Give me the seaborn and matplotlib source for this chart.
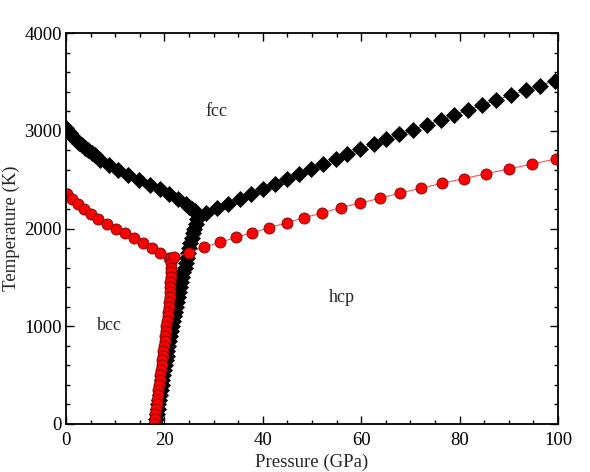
import numpy as np
import pandas as pd
import seaborn as sns
import matplotlib.pyplot as plt
from matplotlib.ticker import MultipleLocator

# fcc boundary (black diamonds), low-pressure branch: fcc / bcc
fcc_bcc_p = [0.0, 0.35, 0.75, 1.2, 1.65, 2.15, 2.7, 3.25, 3.85, 4.5, 5.2, 5.9,
             7.0, 8.7, 10.6, 12.7, 14.9, 17.1, 19.1, 21.0, 22.8, 24.3,
             25.0, 25.6, 26.2, 26.6, 27.0]
fcc_bcc_t = [3025, 3000, 2975, 2950, 2925, 2900, 2875, 2850, 2825, 2800, 2775, 2750,
             2700, 2650, 2600, 2550, 2500, 2450, 2400, 2350, 2300, 2250,
             2225, 2200, 2175, 2150, 2125]

# steep black branch (bcc / hcp side)
steep_t = [0, 50, 100, 150, 200, 250, 300, 350, 400, 450, 500, 550, 600, 650, 700,
           750, 800, 850, 900, 950, 1000, 1050, 1100, 1150, 1200, 1250, 1300, 1350,
           1400, 1450, 1500, 1550, 1600, 1650, 1700, 1750, 1800, 1850, 1900, 1950,
           2000, 2050, 2100]
steep_p = [18.2, 18.35, 18.5, 18.65, 18.8, 18.95, 19.1, 19.25, 19.45, 19.6, 19.75,
           19.9, 20.1, 20.25, 20.45, 20.6, 20.8, 21.0, 21.2, 21.4, 21.6, 21.8, 22.0,
           22.2, 22.4, 22.6, 22.8, 23.0, 23.2, 23.4, 23.65, 23.85, 24.1, 24.3, 24.55,
           24.8, 25.05, 25.3, 25.6, 25.85, 26.1, 26.4, 26.7]

# fcc / hcp branch (black)
fcc_hcp_p = [28.4, 30.7, 33.0, 35.3, 37.7, 40.1, 42.5, 44.9, 47.4, 49.7, 52.2, 54.8,
             57.2, 59.8, 62.5, 65.0, 67.7, 70.5, 73.3, 76.2, 78.9, 81.7, 84.5, 87.4,
             90.4, 93.4, 96.3, 99.3]
fcc_hcp_t = [2160, 2205, 2255, 2305, 2355, 2404, 2458, 2506, 2558, 2609, 2660, 2708,
             2759, 2810, 2861, 2912, 2962, 3010, 3060, 3110, 3161, 3212, 3263, 3314,
             3364, 3412, 3462, 3512]

# red circles: left branch
red_left_p = [0.2, 1.2, 2.4, 3.7, 5.1, 6.6, 8.3, 10.1, 11.9, 13.8, 15.7, 17.5, 19.2, 20.9]
red_left_t = [2355, 2300, 2250, 2200, 2150, 2100, 2050, 2000, 1950, 1900, 1850, 1800,
              1750, 1700]

# red vertical branch
red_vert_t = [1700, 1650, 1600, 1550, 1500, 1450, 1400, 1350, 1300, 1250, 1200, 1150,
              1100, 1050, 1000, 950, 900, 850, 800, 750, 700, 650, 600, 550, 500, 450,
              400, 350, 300, 250, 200, 150, 100, 50, 0]
red_vert_p = [21.3, 21.3, 21.3, 21.3, 21.25, 21.2, 21.15, 21.1, 21.05, 21.0, 20.95,
              20.8, 20.65, 20.5, 20.4, 20.3, 20.2, 20.05, 19.95, 19.8, 19.7, 19.55,
              19.45, 19.3, 19.2, 19.05, 18.9, 18.8, 18.65, 18.5, 18.4, 18.25, 18.1,
              18.0, 17.9]

# red right branch
red_right_p = [22.0, 25.0, 28.1, 31.3, 34.6, 37.9, 41.3, 44.9, 48.4, 52.1, 55.8, 59.8,
               63.8, 67.9, 72.1, 76.4, 80.8, 85.4, 90.0, 94.7, 99.5]
red_right_t = [1705, 1753, 1811, 1858, 1910, 1957, 2008, 2059, 2111, 2158, 2213, 2261,
               2309, 2363, 2411, 2462, 2509, 2561, 2609, 2660, 2711]

sns.set_style("ticks")
plt.rcParams['font.family'] = ['Liberation Serif', 'DejaVu Serif']

fig = plt.figure(figsize=(5.9, 4.72), dpi=100)
ax = fig.add_axes([66 / 590, 1 - 424 / 472, (558 - 66) / 590, (424 - 33) / 472])

black_kw = dict(color='#707070', lw=0.8, marker='D', markersize=8,
                markerfacecolor='black', markeredgecolor='black', markeredgewidth=0.5,
                estimator=None, sort=False, ax=ax)
for p, t in [(fcc_bcc_p, fcc_bcc_t), (steep_p, steep_t), (fcc_hcp_p, fcc_hcp_t)]:
    sns.lineplot(x=p, y=t, **black_kw)

red_kw = dict(color='#ff5050', lw=0.8, marker='o', markersize=8,
              markerfacecolor='red', markeredgecolor='#6b1010', markeredgewidth=0.6,
              estimator=None, sort=False, ax=ax)
for p, t in [(red_left_p, red_left_t), (red_vert_p, red_vert_t), (red_right_p, red_right_t)]:
    sns.lineplot(x=p, y=t, **red_kw)

ax.text(30.5, 3200, "fcc", fontsize=13, ha='center', va='center')
ax.text(56.1, 1290, "hcp", fontsize=13, ha='center', va='center')
ax.text(8.9, 1010, "bcc", fontsize=13, ha='center', va='center')

ax.set_xlim(0, 100)
ax.set_ylim(0, 4000)
ax.xaxis.set_major_locator(MultipleLocator(20))
ax.xaxis.set_minor_locator(MultipleLocator(5))
ax.yaxis.set_major_locator(MultipleLocator(1000))
ax.yaxis.set_minor_locator(MultipleLocator(200))
ax.tick_params(which='both', direction='in', top=True, right=True, labelsize=13.5,
               colors='black', width=1)
ax.tick_params(which='major', length=6)
ax.tick_params(axis='x', which='major', pad=6)
ax.tick_params(axis='y', which='major', pad=3)
ax.tick_params(which='minor', length=3)
for s in ax.spines.values():
    s.set_linewidth(1.3)
    s.set_color('black')
ax.set_xlabel("Pressure (GPa)", fontsize=13.5, labelpad=3)
ax.set_ylabel("Temperature (K)", fontsize=13.5, labelpad=3)

fig.savefig("out.png", dpi=100)
